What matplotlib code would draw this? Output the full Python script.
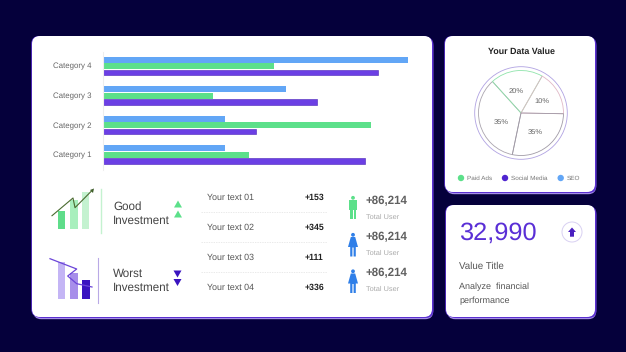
import matplotlib
matplotlib.use('Agg')
import matplotlib.pyplot as plt
from matplotlib.patches import FancyBboxPatch, Rectangle, Circle, Polygon

plt.rcParams['font.family'] = ['Liberation Sans', 'DejaVu Sans']
plt.rcParams['text.hinting'] = 'no_hinting'

# data
categories = ['Category 1', 'Category 2', 'Category 3', 'Category 4']
blue_vals = [40, 40, 60, 100]
green_vals = [48, 88, 36, 56]
purple_vals = [86, 50, 70, 90]

pie_labels = ['10%', '20%', '35%', '35%']
pie_sizes = [17, 20, 35, 28]
legend_names = ['Paid Ads', 'Social Media', 'SEO']

row_names = ['Your text 01', 'Your text 02', 'Your text 03', 'Your text 04']
row_vals = ['+153', '+345', '+111', '+336']
user_vals = ['+86,214', '+86,214', '+86,214']
user_label = 'Total User'

big_number = '32,990'

BG = '#05003b'
BLUE = '#62a6f6'
GREEN = '#5ce08a'
PURPLE = '#6b3fe4'
DARK = '#3a14c0'

W, H = 626, 352
fig = plt.figure(figsize=(W / 100, H / 100), dpi=100, facecolor=BG)
ax = fig.add_axes([0, 0, 1, 1])
ax.set_xlim(0, W)
ax.set_ylim(H, 0)
ax.axis('off')


def card(x0, y0, x1, y1):
    for dx, dy, col in [(1.2, 2.2, '#a78eea'), (1.5, 1, '#5a30d0'), (-0.8, 0, '#5a30d0')]:
        ax.add_patch(FancyBboxPatch((x0 + dx, y0 + dy), x1 - x0, y1 - y0,
                                    boxstyle='round,pad=0,rounding_size=8', fc=col, ec='none'))
    ax.add_patch(FancyBboxPatch((x0, y0), x1 - x0, y1 - y0,
                                boxstyle='round,pad=0,rounding_size=8', fc='white', ec='none'))


card(32, 36, 432, 317)
card(445, 36, 595, 192)
card(446, 205, 595, 317)

# bars
bx = fig.add_axes([103 / W, 1 - 170 / H, 305 / W, 118 / H])
bx.patch.set_alpha(0)
h = 0.21
for i, cat in enumerate(categories):
    bx.barh(i + h, blue_vals[i], h, color=BLUE)
    bx.barh(i - 0.01, green_vals[i], h, color=GREEN)
    bx.barh(i - h - 0.01, purple_vals[i], h * 0.92, color=PURPLE, edgecolor='#4a22b8', linewidth=0.4)
bx.set_xlim(0, 100)
bx.set_ylim(-0.525, 3.47)
bx.set_xticks([])
bx.set_yticks(range(4))
bx.set_yticklabels(categories, fontsize=5.7, color='#666666')
bx.tick_params(axis='y', length=0, pad=8)
for s in ['top', 'right', 'bottom']:
    bx.spines[s].set_visible(False)
bx.spines['left'].set_color('#eeeeee')
bx.spines['left'].set_linewidth(0.8)

# good icon
for x, top, col in [(57.7, 211, '#5fdd8a'), (70, 200, '#a8efbd'), (81.7, 192, '#c4f2d0')]:
    ax.add_patch(Rectangle((x, top), 7.5, 229 - top, fc=col, ec='none'))
ax.plot([52, 73, 75, 92], [215.7, 198, 207.7, 190.5], color='#4a6b30', lw=0.8)
ax.add_patch(Polygon([[94, 188.5], [90, 190], [93, 193]], fc='#3a5a28', ec='none'))
ax.plot([101, 101], [189, 233], color='#c4f2d0', lw=1)

# worst icon
for x, top, col in [(57.5, 262, '#c4b5f5'), (70, 273, '#a78eea'), (82, 280, DARK)]:
    ax.add_patch(Rectangle((x, top), 7.5, 298.7 - top, fc=col, ec='none'))
ax.plot([50, 76.7, 67.7, 76.7, 92], [258.7, 269, 276, 283.7, 287], color='#6b45d8', lw=0.9)
ax.plot([98, 98], [258, 303], color='#b9a9e6', lw=0.8)

for y, txt in [(207, 'Good'), (221, 'Investment'), (274, 'Worst'), (288, 'Investment')]:
    ax.text(113, y, txt, fontsize=8.4, color='#444444', va='center')

for y in [204, 214]:
    ax.add_patch(Polygon([[178, y - 3.5], [174, y + 3.5], [182, y + 3.5]], fc=GREEN, ec='none'))
for y in [274, 282.5]:
    ax.add_patch(Polygon([[177.5, y + 3.5], [173.5, y - 3.5], [181.5, y - 3.5]], fc=DARK, ec='none'))

# table
row_y = [198, 228, 258, 288]
for y, name, val in zip(row_y, row_names, row_vals):
    ax.text(207, y, name, fontsize=6.4, color='#555555', va='center')
    ax.text(314, y, val, fontsize=6.3, color='#222222', va='center', ha='center', fontweight='bold')
for y in [212, 242, 272]:
    ax.plot([201, 327], [y, y], color='#e2e2e2', lw=0.5, ls=(0, (2, 1.5)))


def man(cx, top, col):
    ax.add_patch(Circle((cx, top + 1.8), 1.9, fc=col, ec='none'))
    ax.add_patch(Polygon([[cx - 4, top + 4], [cx + 4, top + 4], [cx + 4, top + 13.5], [cx + 2.8, top + 13.5],
                          [cx + 2.8, top + 22.5], [cx + 0.5, top + 22.5], [cx + 0.5, top + 14], [cx - 0.5, top + 14],
                          [cx - 0.5, top + 22.5], [cx - 2.8, top + 22.5], [cx - 2.8, top + 13.5], [cx - 4, top + 13.5]],
                         fc=col, ec='none'))


def woman(cx, top, col):
    ax.add_patch(Circle((cx, top + 1.8), 1.9, fc=col, ec='none'))
    ax.add_patch(Polygon([[cx - 2.2, top + 4], [cx + 2.2, top + 4], [cx + 5, top + 14], [cx + 2.8, top + 14],
                          [cx + 2.8, top + 23.5], [cx + 0.6, top + 23.5], [cx + 0.6, top + 14.5], [cx - 0.6, top + 14.5],
                          [cx - 0.6, top + 23.5], [cx - 2.8, top + 23.5], [cx - 2.8, top + 14], [cx - 5, top + 14]],
                         fc=col, ec='none'))


man(353, 196, '#5ce08a')
woman(353, 233, '#2f7fe8')
woman(353, 269.5, '#2f7fe8')
for y, val in zip([201, 237, 273], user_vals):
    ax.text(366, y, val, fontsize=8.3, color='#606060', va='center', fontweight='bold')
    ax.text(366, y + 16, user_label, fontsize=5.3, color='#aaaaaa', va='center')

# pie
ax.text(521, 52, 'Your Data Value', fontsize=6.4, color='#222222', fontweight='bold', ha='center', va='center')
px = fig.add_axes([471 / W, 1 - 163 / H, 100 / W, 100 / H])
wedges, _ = px.pie(pie_sizes, startangle=-1, radius=42.5,
                   colors=['none'] * 4, wedgeprops={'linewidth': 0.6})
for w, col, z in zip(wedges, ['#e0b8c6', '#8fe4ab', '#aaa4ae', '#a09aa6'], [3, 2, 1, 4]):
    w.set_edgecolor(col)
    w.set_zorder(z)
px.set_xlim(-50, 50)
px.set_ylim(-50, 50)
ax.add_patch(Circle((521, 113), 46.3, fc='none', ec='#b0a2e2', lw=0.6))
for (x, y), lab in zip([(541.7, 101), (515.7, 91), (501.7, 121.7), (535, 131.7)], pie_labels):
    ax.text(x, y, lab, fontsize=5.4, color='#666666', ha='center', va='center')

for x, name, col in zip([461, 505, 560.7], legend_names, [GREEN, '#4f25d0', BLUE]):
    ax.add_patch(Circle((x, 178), 3.2, fc=col, ec='none'))
    ax.text(x + 5.8, 178, name, fontsize=4.6, color='#777777', va='center')

# value card
ax.text(459, 233, big_number, fontsize=18.3, color='#5a2fd6', va='center')
ax.add_patch(Circle((572, 232), 10, fc='white', ec='#d8d0f2', lw=0.7))
ax.add_patch(Polygon([[572, 227.5], [576, 232], [574, 232], [574, 236.7], [570, 236.7], [570, 232], [568, 232]],
                     fc='#4a1fc0', ec='none'))
ax.text(459, 266.5, 'Value Title', fontsize=7, color='#555555', va='center')
ax.text(459, 287, 'Analyze  financial', fontsize=6.5, color='#555555', va='center')
ax.text(459, 301, 'performance', fontsize=6.5, color='#555555', va='center')

fig.savefig('out.png', dpi=100, facecolor=BG)
